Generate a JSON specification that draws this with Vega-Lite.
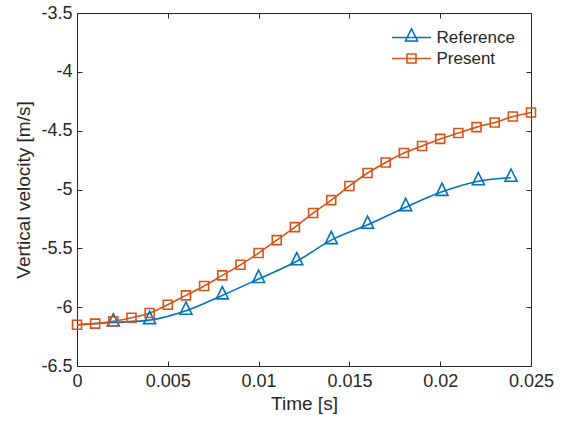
{
  "$schema": "https://vega.github.io/schema/vega-lite/v6.json",
  "width": 454,
  "height": 353,
  "autosize": {"type": "none"},
  "padding": {"left": 77, "top": 13, "right": 36, "bottom": 58},
  "background": "white",
  "config": {
    "view": {"stroke": "#262626", "strokeWidth": 1},
    "font": "Liberation Sans",
    "axis": {
      "domain": false, "grid": false, "labelFlush": false, "labelOverlap": false,
      "tickColor": "#262626", "tickSize": -5, "tickWidth": 1,
      "labelColor": "#262626", "labelFont": "Liberation Sans", "labelFontSize": 18,
      "titleColor": "#262626", "titleFont": "Liberation Sans", "titleFontSize": 19, "titleFontWeight": "normal"
    }
  },
  "data": {"values": [
    {"series": "Reference", "t": 0, "v": -6.15},
    {"series": "Reference", "t": 0.002, "v": -6.13},
    {"series": "Reference", "t": 0.004, "v": -6.11},
    {"series": "Reference", "t": 0.006, "v": -6.03},
    {"series": "Reference", "t": 0.008, "v": -5.9},
    {"series": "Reference", "t": 0.01, "v": -5.76},
    {"series": "Reference", "t": 0.0121, "v": -5.61},
    {"series": "Reference", "t": 0.014, "v": -5.43},
    {"series": "Reference", "t": 0.016, "v": -5.3},
    {"series": "Reference", "t": 0.0181, "v": -5.15},
    {"series": "Reference", "t": 0.0201, "v": -5.02},
    {"series": "Reference", "t": 0.0221, "v": -4.93},
    {"series": "Reference", "t": 0.0239, "v": -4.9},
    {"series": "Present", "t": 0, "v": -6.15},
    {"series": "Present", "t": 0.001, "v": -6.14},
    {"series": "Present", "t": 0.002, "v": -6.12},
    {"series": "Present", "t": 0.003, "v": -6.09},
    {"series": "Present", "t": 0.004, "v": -6.05},
    {"series": "Present", "t": 0.005, "v": -5.98},
    {"series": "Present", "t": 0.006, "v": -5.9},
    {"series": "Present", "t": 0.007, "v": -5.82},
    {"series": "Present", "t": 0.008, "v": -5.73},
    {"series": "Present", "t": 0.009, "v": -5.64},
    {"series": "Present", "t": 0.01, "v": -5.54},
    {"series": "Present", "t": 0.011, "v": -5.43},
    {"series": "Present", "t": 0.012, "v": -5.32},
    {"series": "Present", "t": 0.013, "v": -5.2},
    {"series": "Present", "t": 0.014, "v": -5.09},
    {"series": "Present", "t": 0.015, "v": -4.97},
    {"series": "Present", "t": 0.016, "v": -4.86},
    {"series": "Present", "t": 0.017, "v": -4.77},
    {"series": "Present", "t": 0.018, "v": -4.69},
    {"series": "Present", "t": 0.019, "v": -4.63},
    {"series": "Present", "t": 0.02, "v": -4.57},
    {"series": "Present", "t": 0.021, "v": -4.52},
    {"series": "Present", "t": 0.022, "v": -4.47},
    {"series": "Present", "t": 0.023, "v": -4.43},
    {"series": "Present", "t": 0.024, "v": -4.38},
    {"series": "Present", "t": 0.025, "v": -4.345}
  ]},
  "layer": [
    {
      "mark": {"type": "line", "interpolate": "monotone", "strokeWidth": 1.6},
      "encoding": {
        "x": {
          "field": "t", "type": "quantitative",
          "scale": {"domain": [0, 0.025], "nice": false, "zero": false},
          "axis": {
            "values": [0, 0.005, 0.01, 0.015, 0.02, 0.025],
            "title": "Time [s]",
            "labelExpr": "format(datum.value, '~g')",
            "labelPadding": 11, "titlePadding": 4
          }
        },
        "y": {
          "field": "v", "type": "quantitative",
          "scale": {"domain": [-6.5, -3.5], "nice": false, "zero": false},
          "axis": {
            "values": [-6.5, -6, -5.5, -5, -4.5, -4, -3.5],
            "title": "Vertical velocity [m/s]",
            "labelExpr": "datum.value < 0 ? '-' + format(-datum.value, '~g') : format(datum.value, '~g')",
            "labelPadding": 10, "titlePadding": 7
          }
        },
        "color": {
          "field": "series", "type": "nominal",
          "scale": {"domain": ["Reference", "Present"], "range": ["#0072BD", "#D95319"]},
          "legend": {
            "orient": "top-right", "offset": 16, "padding": 0, "title": null,
            "labelFont": "Liberation Sans", "labelFontSize": 17, "labelColor": "#262626",
            "symbolSize": 100, "symbolStrokeWidth": 1.6, "labelOffset": 16.5, "rowPadding": 3,
            "encode": {
              "symbols": {
                "update": {
                  "shape": {"signal": "datum.value == 'Reference' ? 'M-3.9,0H3.9M0,-1.75L1.2,0.7H-1.2Z' : 'M-3.9,0H3.9M-0.9,-0.9H0.9V0.9H-0.9Z'"},
                  "fill": {"value": "transparent"}
                }
              }
            }
          }
        }
      }
    },
    {
      "transform": [{"filter": "datum.series == 'Reference' && datum.t > 0"}],
      "mark": {"type": "point", "filled": false, "strokeWidth": 1.6, "size": 100, "opacity": 1, "color": "#0072BD", "shape": "M0,-1.75L1.2,0.7H-1.2Z"},
      "encoding": {
        "x": {
          "field": "t", "type": "quantitative",
          "scale": {"domain": [0, 0.025], "nice": false, "zero": false},
          "axis": {"orient": "top", "values": [0, 0.005, 0.01, 0.015, 0.02, 0.025], "labels": false, "title": null}
        },
        "y": {
          "field": "v", "type": "quantitative",
          "scale": {"domain": [-6.5, -3.5], "nice": false, "zero": false},
          "axis": {"orient": "right", "values": [-6.5, -6, -5.5, -5, -4.5, -4, -3.5], "labels": false, "title": null}
        }
      }
    },
    {
      "transform": [{"filter": "datum.series == 'Present'"}],
      "mark": {"type": "point", "filled": false, "strokeWidth": 1.6, "size": 100, "opacity": 1, "color": "#D95319", "shape": "M-0.9,-0.9H0.9V0.9H-0.9Z"},
      "encoding": {
        "x": {"field": "t", "type": "quantitative", "scale": {"domain": [0, 0.025], "nice": false, "zero": false}, "axis": null},
        "y": {"field": "v", "type": "quantitative", "scale": {"domain": [-6.5, -3.5], "nice": false, "zero": false}, "axis": null}
      }
    }
  ],
  "resolve": {"axis": {"x": "independent", "y": "independent"}}
}
